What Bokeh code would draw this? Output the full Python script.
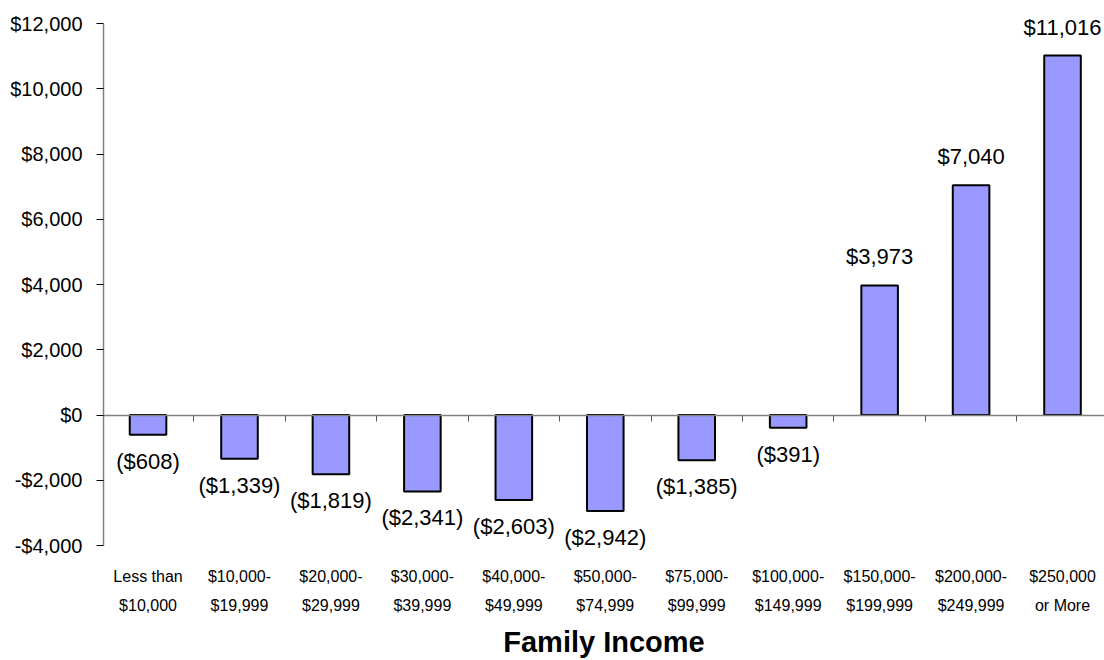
from bokeh.plotting import figure
from bokeh.models import (Range1d, LinearAxis, FixedTicker, ColumnDataSource, LabelSet)
from bokeh.embed import file_html
from bokeh.resources import INLINE
from bokeh.core.properties import value

categories_line1 = ["Less than", "$10,000-", "$20,000-", "$30,000-", "$40,000-", "$50,000-",
                    "$75,000-", "$100,000-", "$150,000-", "$200,000-", "$250,000"]
categories_line2 = ["$10,000", "$19,999", "$29,999", "$39,999", "$49,999", "$74,999",
                    "$99,999", "$149,999", "$199,999", "$249,999", "or More"]
values = [-608, -1339, -1819, -2341, -2603, -2942, -1385, -391, 3973, 7040, 11016]
y_ticks = [-4000, -2000, 0, 2000, 4000, 6000, 8000, 10000, 12000]
axis_title = "Family Income"

FONT = "Liberation Sans"

def money(v):
    s = "${:,}".format(abs(v))
    return "(" + s + ")" if v < 0 else s

def tick_label(v):
    s = "${:,}".format(abs(v))
    return "-" + s if v < 0 else s

idx = list(range(len(values)))
pos_src = ColumnDataSource(dict(x=[i for i in idx if values[i] >= 0],
                                y=[v for v in values if v >= 0],
                                t=[money(v) for v in values if v >= 0]))
neg_src = ColumnDataSource(dict(x=[i for i in idx if values[i] < 0],
                                y=[v for v in values if v < 0],
                                t=[money(v) for v in values if v < 0]))

# layout: axis from -4000 (y=545) to 12000 (y=23); frame padded so labels are not clipped
axis_px = 522.0
k = axis_px / (y_ticks[-1] - y_ticks[0])
pad_top, pad_bot = 20, 6
y_start = y_ticks[0] - pad_bot / k
y_end = y_ticks[-1] + pad_top / k

p = figure(width=1104, height=660, output_backend="svg", toolbar_location=None,
           x_range=Range1d(-0.487, 10.459), y_range=Range1d(y_start, y_end),
           x_axis_location=None, y_axis_location="left",
           min_border_left=103, min_border_top=23 - pad_top,
           min_border_bottom=660 - 545 - pad_bot, min_border_right=0)
p.outline_line_color = None
p.grid.visible = False
p.background_fill_color = "white"
p.border_fill_color = "white"

# y axis
ya = p.yaxis[0]
ya.bounds = (y_ticks[0], y_ticks[-1])
ya.ticker = FixedTicker(ticks=y_ticks)
ya.major_label_overrides = {t: tick_label(t) for t in y_ticks}
ya.major_label_text_font = FONT
ya.major_label_text_font_size = "20px"
ya.major_label_text_color = "black"
ya.axis_line_color = "#808080"
ya.axis_line_width = 1.5
ya.major_tick_line_color = "black"
ya.major_tick_out = 7
ya.major_tick_in = 0
ya.minor_tick_line_color = None
ya.major_label_standoff = 14

# zero line axis with category boundary ticks
za = LinearAxis(fixed_location=0,
                ticker=FixedTicker(ticks=[i - 0.5 for i in range(len(values) + 1)]))
za.major_label_overrides = {i - 0.5: "" for i in range(len(values) + 1)}
za.major_label_text_font_size = "1px"
za.axis_line_color = "#808080"
za.axis_line_width = 1.5
za.major_tick_line_color = "#555555"
za.major_tick_in = 6
za.major_tick_out = 0
za.minor_tick_line_color = None
p.add_layout(za, "above")

# bars
p.vbar(x=idx, top=values, bottom=0, width=0.4, fill_color="#9999FF",
       line_color="black", line_width=2)

# value labels
p.add_layout(LabelSet(x="x", y="y", text="t", source=pos_src, text_align="center",
                      text_baseline="alphabetic", y_offset=21, text_font=value(FONT),
                      text_font_size=value("22px"), text_color="black"))
p.add_layout(LabelSet(x="x", y="y", text="t", source=neg_src, text_align="center",
                      text_baseline="alphabetic", y_offset=-34, text_font=value(FONT),
                      text_font_size=value("22px"), text_color="black"))

# category labels, two lines
xa1 = LinearAxis(ticker=FixedTicker(ticks=idx))
xa1.major_label_overrides = {i: categories_line1[i] for i in idx}
xa2 = LinearAxis(ticker=FixedTicker(ticks=idx))
xa2.major_label_overrides = {i: categories_line2[i] for i in idx}
for a in (xa1, xa2):
    a.axis_line_color = None
    a.major_tick_line_color = None
    a.minor_tick_line_color = None
    a.major_tick_in = 0
    a.major_tick_out = 0
    a.major_label_text_font = FONT
    a.major_label_text_font_size = "16px"
    a.major_label_text_color = "black"
xa1.major_label_standoff = 16
xa2.major_label_standoff = 9
xa2.axis_label = axis_title
xa2.axis_label_text_font = FONT
xa2.axis_label_text_font_size = "29px"
xa2.axis_label_text_font_style = "bold"
xa2.axis_label_text_color = "black"
xa2.axis_label_text_line_height = 0.7
xa2.axis_label_standoff = 9
p.add_layout(xa1, "below")
p.add_layout(xa2, "below")

open("out.html", "w").write(file_html(p, INLINE))
